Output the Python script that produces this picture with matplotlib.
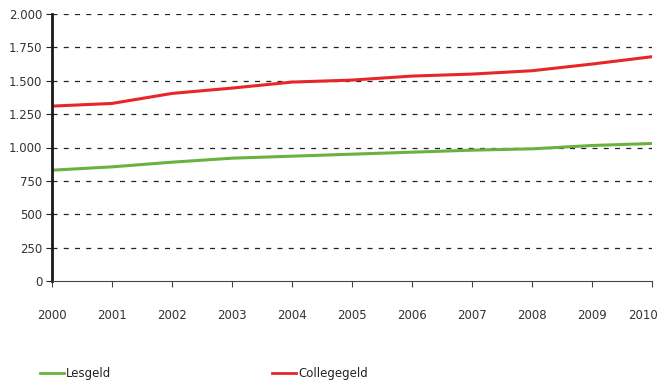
import numpy as np
import matplotlib.pyplot as plt
import matplotlib.transforms as mtransforms
from matplotlib.lines import Line2D
from matplotlib.ticker import FuncFormatter

years = [2000, 2001, 2002, 2003, 2004, 2005, 2006, 2007, 2008, 2009, 2010]
lesgeld = [830, 855, 890, 920, 935, 950, 965, 980, 990, 1015, 1030]
collegegeld = [1310, 1330, 1405, 1445, 1490, 1505, 1535, 1550, 1575, 1625, 1680]
yticks = [0, 250, 500, 750, 1000, 1250, 1500, 1750, 2000]

green = '#6ab23e'
red = '#e8262a'

fig = plt.figure(figsize=(6.62, 3.82), dpi=100)
ax = fig.add_axes([52/662, 1 - 281/382, 600/662, 267/382])

ax.plot(years, lesgeld, color=green, lw=2.2)
ax.plot(years, collegegeld, color=red, lw=2.2)

ax.set_xlim(2000, 2010)
ax.set_ylim(0, 2000)
ax.set_xticks(years)
ax.set_yticks(yticks)
ax.yaxis.set_major_formatter(FuncFormatter(lambda v, p: f"{int(v):,}".replace(',', '.')))

for y in yticks[1:]:
    ax.axhline(y, color='#222222', lw=0.9, ls=(0, (4, 5)), zorder=0)

for s in ['top', 'right']:
    ax.spines[s].set_visible(False)
ax.spines['left'].set_linewidth(2)
ax.spines['left'].set_color('#1a1a1a')
ax.spines['bottom'].set_linewidth(0.8)
ax.spines['bottom'].set_color('#444444')

ax.tick_params(axis='x', length=4, width=0.8, color='#444444', pad=16, labelsize=8.5, labelcolor='#333333')
ax.tick_params(axis='y', length=4, width=0.8, color='#222222', pad=3, labelsize=8.5, labelcolor='#333333')

# last year label sits slightly left so it stays inside the picture
fig.canvas.draw()
last = ax.get_xticklabels()[-1]
last.set_transform(last.get_transform() + mtransforms.ScaledTranslation(-9/100, 0, fig.dpi_scale_trans))

labels = ['Lesgeld', 'Collegegeld']
colors = [green, red]
xpos = [40/662, 272/662]
for lab, col, xp in zip(labels, colors, xpos):
    fig.legend([Line2D([], [], color=col, lw=2)], [lab], loc='center left',
               bbox_to_anchor=(xp, 1 - 374/382), frameon=False, fontsize=8.5,
               handlelength=2.0, handletextpad=0.2, borderpad=0, borderaxespad=0,
               labelcolor='#222222')

fig.savefig('out.png', dpi=100)
